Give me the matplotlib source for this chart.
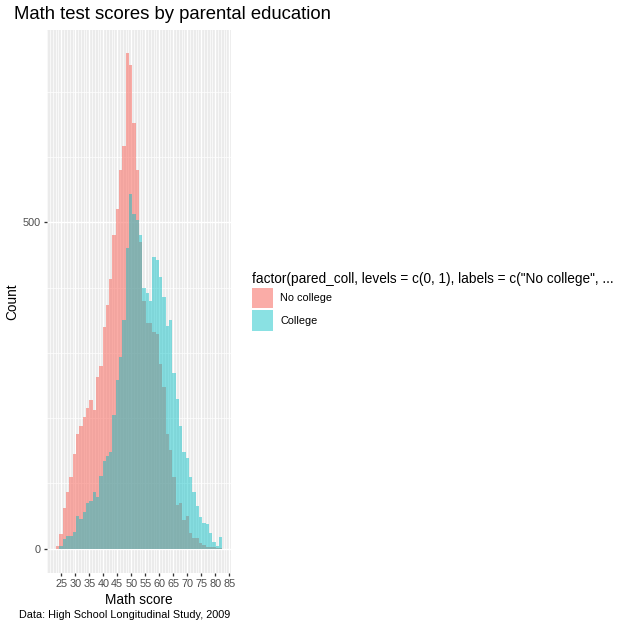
import numpy as np
import matplotlib
matplotlib.use("Agg")
import matplotlib.pyplot as plt

plt.rcParams['font.family'] = ['Liberation Sans', 'DejaVu Sans']

# histogram counts per bin (50 bins)
first_edge = 23.1
bin_width = 1.187
no_college = [4, 22, 62, 86, 110, 145, 176, 188, 202, 215,
              228, 212, 263, 280, 340, 374, 414, 480, 521, 581,
              617, 759, 741, 652, 581, 470, 380, 346, 346, 332,
              329, 283, 248, 176, 151, 110, 67, 70, 43, 50,
              24, 16, 16, 9, 6, 3, 3, 2, 1, 1]
college = [0, 4, 15, 19, 19, 26, 50, 45, 56, 70,
           73, 87, 79, 111, 134, 142, 148, 205, 259, 294,
           351, 461, 544, 513, 504, 481, 400, 392, 380, 447,
           442, 416, 386, 341, 351, 269, 230, 188, 148, 139,
           110, 86, 65, 48, 39, 38, 24, 10, 4, 18]
group_labels = ["No college", "College"]
x_breaks = list(range(25, 90, 5))
y_breaks = [0, 500]
legend_title = 'factor(pared_coll, levels = c(0, 1), labels = c("No college", ...'

edges = first_edge + bin_width * np.arange(len(no_college))

W = 630
small = 7.85   # tick labels, legend labels, caption
mid = 9.85     # axis titles, legend title

fig = plt.figure(figsize=(6.3, 6.3), dpi=100)
ax = fig.add_axes([47.3 / W, 1 - 573 / W, (230.7 - 47.3) / W, (573 - 30) / W])
ax.set_facecolor('#EBEBEB')
for s in ax.spines.values():
    s.set_visible(False)

b1 = ax.bar(edges, no_college, width=bin_width, align='edge',
            color='#F8766D', alpha=0.6, linewidth=0, zorder=2)
b2 = ax.bar(edges, college, width=bin_width, align='edge',
            color='#00BFC4', alpha=0.46, linewidth=0, zorder=3)

ax.set_xlim(20, 85.5)
ax.set_ylim(-37.5, 795)

ax.set_xticks(x_breaks)
ax.set_xticks(np.arange(20, 85.6, 1), minor=True)
ax.set_yticks(y_breaks)
ax.set_yticks([100, 200, 300, 400, 600, 700], minor=True)
ax.grid(which='major', color='white', linewidth=1.0, zorder=0)
ax.grid(which='minor', color='white', linewidth=0.5, zorder=0)
ax.set_axisbelow(True)
ax.tick_params(which='major', length=2.5, width=0.95, color='#333333',
               labelsize=small, labelcolor='#4D4D4D', pad=2.0)
ax.tick_params(which='minor', length=0)

ax.set_xlabel('Math score', fontsize=mid, labelpad=2.4)
ax.set_ylabel('Count', fontsize=mid, labelpad=2.4)

fig.text(14 / W, 1 - 19 / W, 'Math test scores by parental education',
         fontsize=13.3, va='baseline', ha='left')
fig.text(230.7 / W, 1 - 618 / W, 'Data: High School Longitudinal Study, 2009',
         fontsize=small, va='baseline', ha='right')

leg = ax.legend([b1, b2], group_labels, title=legend_title,
                loc='upper left', bbox_to_anchor=(252 / W, 1 - 272 / W),
                bbox_transform=fig.transFigure, frameon=False,
                fontsize=small, title_fontsize=mid, borderpad=0,
                borderaxespad=0, handlelength=1.9, handleheight=2.55,
                labelspacing=0.16, handletextpad=0.7, alignment='left')

plt.savefig('out.png', dpi=100)
